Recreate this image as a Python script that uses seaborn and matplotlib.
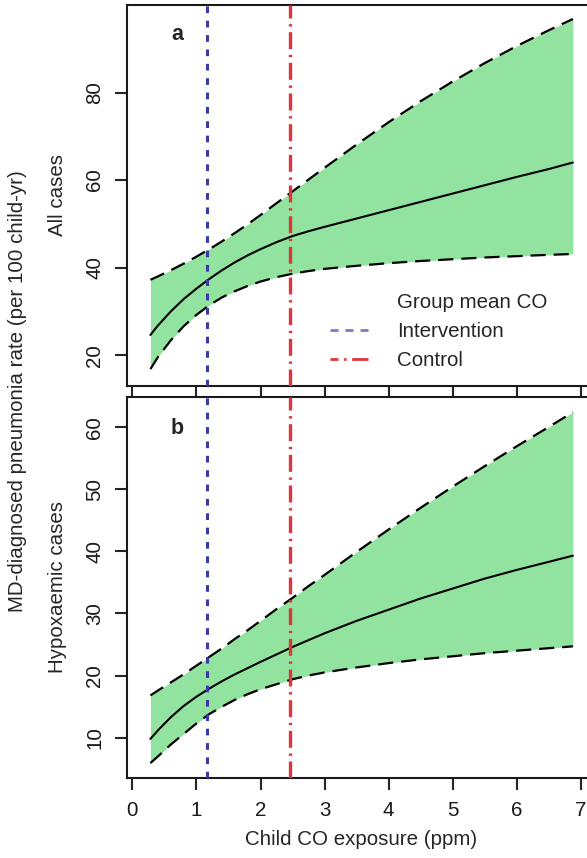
import numpy as np
import pandas as pd
import matplotlib
matplotlib.use('Agg')
import matplotlib.pyplot as plt
from matplotlib.lines import Line2D
import seaborn as sns

# Child CO exposure (ppm) grid
co_ppm = [0.28, 0.4, 0.6, 0.8, 1.0, 1.2, 1.4, 1.6, 1.8, 2.0, 2.25, 2.5, 2.75, 3.0,
          3.5, 4.0, 4.5, 5.0, 5.5, 6.0, 6.5, 6.88]

# Panel a: all cases (fit and 95% band)
all_fit = [24.6, 26.8, 30.0, 32.8, 35.2, 37.4, 39.4, 41.2, 42.8, 44.2, 45.8, 47.2, 48.3, 49.3,
           51.2, 53.1, 55.0, 56.9, 58.8, 60.7, 62.5, 64.0]
all_upper = [37.2, 38.0, 39.4, 40.9, 42.5, 44.2, 46.0, 47.9, 49.9, 52.0, 54.7, 57.4, 60.1, 62.8,
             68.1, 73.2, 78.0, 82.5, 86.7, 90.6, 94.2, 96.8]
all_lower = [16.8, 19.6, 23.4, 26.6, 29.2, 31.4, 33.2, 34.6, 35.8, 36.8, 37.8, 38.6, 39.2, 39.7,
             40.4, 41.0, 41.5, 41.9, 42.3, 42.6, 42.9, 43.1]

# Panel b: hypoxaemic cases
hyp_fit = [9.8, 11.2, 13.3, 15.1, 16.6, 17.9, 19.1, 20.2, 21.2, 22.2, 23.4, 24.6, 25.7, 26.8,
           28.8, 30.6, 32.4, 34.0, 35.6, 37.0, 38.3, 39.3]
hyp_upper = [16.8, 17.6, 18.9, 20.2, 21.6, 23.0, 24.4, 25.9, 27.3, 28.8, 30.7, 32.5, 34.4, 36.2,
             39.9, 43.5, 47.0, 50.4, 53.7, 56.9, 60.0, 62.4]
hyp_lower = [5.9, 7.0, 8.9, 10.6, 12.3, 13.8, 15.0, 16.1, 17.0, 17.8, 18.6, 19.4, 20.0, 20.5,
             21.3, 22.0, 22.6, 23.1, 23.6, 24.0, 24.4, 24.7]

# Group mean CO
intervention_co = 1.17
control_co = 2.46

panel_labels = ['a', 'b']
panel_ylabels = ['All cases', 'Hypoxaemic cases']
x_ticks = [0, 1, 2, 3, 4, 5, 6, 7]
a_yticks = [20, 40, 60, 80]
b_yticks = [10, 20, 30, 40, 50, 60]

sns.set_style('ticks')
plt.rcParams['font.family'] = ['Liberation Sans', 'DejaVu Sans']
plt.rcParams['axes.linewidth'] = 1.5
plt.rcParams['axes.edgecolor'] = '#1a1a1a'

W, H = 587, 858
fig = plt.figure(figsize=(W / 100, H / 100), dpi=100)

left_px, right_px = 127.3, 594
ax_a = fig.add_axes([left_px / W, 1 - 385.7 / H, (right_px - left_px) / W, (385.7 - 5) / H])
ax_b = fig.add_axes([left_px / W, 1 - 778 / H, (right_px - left_px) / W, (778 - 396.7) / H])

green = '#93e3a0'
blue = '#3a3aa8'
red = '#e0353a'
fs = 14.8

panels = [
    (ax_a, all_fit, all_upper, all_lower, (13.0, 100.0), a_yticks),
    (ax_b, hyp_fit, hyp_upper, hyp_lower, (3.5, 64.9), b_yticks),
]

for i, (ax, fit, up, lo, ylim, yt) in enumerate(panels):
    df = pd.DataFrame({'co': co_ppm, 'fit': fit, 'upper': up, 'lower': lo})
    ax.fill_between(df['co'], df['lower'], df['upper'], color=green, lw=0, zorder=1)
    sns.lineplot(data=df, x='co', y='fit', ax=ax, color='black', lw=1.5, zorder=3)
    for col in ['upper', 'lower']:
        sns.lineplot(data=df, x='co', y=col, ax=ax, color='black', lw=1.6,
                     linestyle=(0, (6.8, 3.6)), zorder=3)
    ax.axvline(intervention_co, color=blue, lw=2.2, linestyle=(0, (2.2, 2.5)), zorder=4)
    ax.axvline(control_co, color=red, lw=2.4, linestyle=(0, (5.1, 1.7, 0.7, 1.7)), zorder=4)

    ax.set_xlim(-0.081, 7.21)
    ax.set_ylim(*ylim)
    ax.set_xticks(x_ticks)
    ax.set_yticks(yt)
    ax.set_yticklabels([str(v) for v in yt], rotation=90, va='center', fontsize=fs, color='#1a1a1a')
    ax.tick_params(axis='y', length=8.6, width=1.5, pad=8)
    ax.set_xlabel('')
    ax.set_ylabel(panel_ylabels[i], fontsize=fs)
    ax.yaxis.set_label_coords((67 - left_px) / (right_px - left_px), 0.5)
    ax.spines['right'].set_visible(True)
    ax.spines['top'].set_visible(True)
    ax.patch.set_alpha(0)

# Top panel x axis: ticks only, reaching into the gap
ax_a.tick_params(axis='x', length=8, width=1.5, labelbottom=False)
ax_b.tick_params(axis='x', length=8.6, width=1.5, pad=8, labelsize=fs, labelcolor='#1a1a1a')
ax_b.set_xlabel('Child CO exposure (ppm)', fontsize=fs, labelpad=7)

# panel letters
fig.text(177 / W, 1 - 35 / H, 'a', fontsize=15.5, fontweight='bold', ha='center', va='center')
fig.text(177 / W, 1 - 428 / H, 'b', fontsize=15.5, fontweight='bold', ha='center', va='center')

# shared y label
fig.text(18 / W, 1 - 391 / H, 'MD-diagnosed pneumonia rate (per 100 child-yr)',
         rotation=90, fontsize=fs, ha='center', va='center')

# legend
handles = [
    Line2D([], [], color='none'),
    Line2D([], [], color='#7b7bc8', lw=2, linestyle=(0, (2.9, 2.5))),
    Line2D([], [], color=red, lw=2, linestyle=(3.25, (6.1, 2.05, 0.85, 2.05))),
]
labels = ['Group mean CO', 'Intervention', 'Control']
fig.legend(handles, labels, loc='center left', bbox_to_anchor=(330 / W, 1 - 331.7 / H),
           frameon=False, fontsize=fs, handlelength=1.85, handletextpad=1.41,
           labelspacing=0.49, borderpad=0, borderaxespad=0)

fig.savefig('out.png', dpi=100)
